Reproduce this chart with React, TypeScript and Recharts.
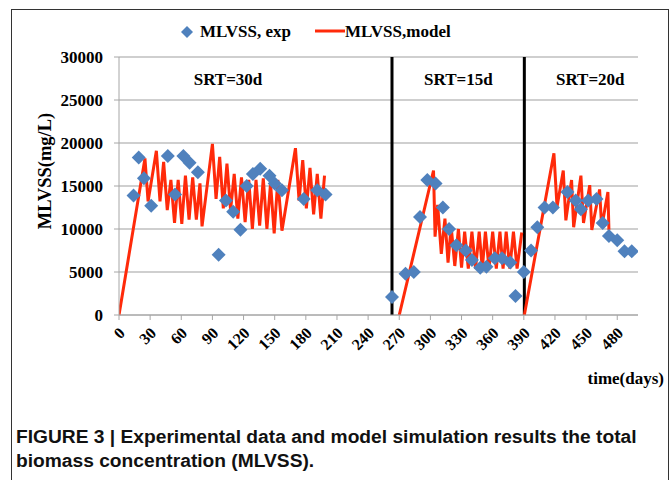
import React from "react";
import {
  ComposedChart, Line, Scatter, XAxis, YAxis, CartesianGrid, ReferenceLine, ReferenceDot,
} from "recharts";

// experimental MLVSS (mg/L)
const expDays = [14, 19, 24, 31, 47, 54, 62, 68, 76, 96, 103, 110, 117, 123, 129, 136, 145, 150, 157, 178, 191, 199, 263, 276, 284, 290, 297, 305, 312, 318, 325, 334, 340, 348, 354, 362, 369, 377, 382, 390, 397, 403, 410, 418, 432, 440, 445, 452, 460, 466, 472, 480, 487, 494];
const expValues = [13900, 18300, 15900, 12700, 18500, 14000, 18500, 17700, 16600, 7000, 13300, 12000, 9900, 15000, 16400, 17000, 16200, 15300, 14500, 13500, 14500, 14000, 2100, 4800, 5000, 11400, 15700, 15300, 12500, 10000, 8100, 7500, 6400, 5500, 5600, 6600, 6600, 6100, 2200, 5000, 7500, 10200, 12500, 12500, 14300, 13300, 12300, 13300, 13500, 10700, 9200, 8700, 7400, 7400];

// model, one run per SRT period
const srt30Days = [0, 25, 28, 36, 39.5, 43, 46.5, 50, 53.5, 57, 60.5, 64, 67.5, 71, 74.5, 78, 80, 90, 93.5, 97, 100.5, 104, 107.5, 111, 114.5, 118, 121.5, 125, 128.5, 132, 135.5, 139, 142.5, 146, 149.5, 153, 157, 170, 173.5, 177, 180.5, 184, 187.5, 191, 194.5, 198];
const srt30Model = [0, 18200, 13200, 19100, 13200, 17800, 12200, 15700, 10700, 15700, 10600, 16200, 11100, 16000, 11100, 15300, 10300, 19900, 13500, 18400, 12400, 17600, 12200, 16400, 11200, 16000, 10800, 15700, 10000, 15700, 10400, 15900, 10000, 15300, 9500, 15700, 9800, 19400, 13300, 18000, 12400, 17100, 11700, 16400, 11200, 16200];
const srt15Days = [270, 303, 304.5, 307, 310.5, 314, 317, 320, 323.5, 327, 330, 333, 336.5, 340, 343.5, 347, 350, 353, 356.5, 360, 363.5, 367, 370, 373, 376.5, 380, 383.5, 388];
const srt15Model = [0, 16800, 9100, 12800, 7100, 11200, 6100, 10300, 5700, 10000, 5500, 9700, 5400, 9700, 5400, 9700, 5400, 9700, 5400, 9700, 5400, 9700, 5400, 9700, 5400, 9700, 5400, 9600];
const srt20Days = [390.5, 419, 422, 428, 430.5, 436, 438, 445, 447.5, 453.5, 455.5, 463, 465, 471, 472];
const srt20Model = [0, 18800, 12600, 16800, 11000, 15700, 10200, 16200, 10700, 15100, 9900, 14600, 10200, 14300, 9900];

const srtChanges = [263, 390.5];
const srtLabels = ["SRT=30d", "SRT=15d", "SRT=20d"];
const srtLabelDays = [105, 327, 454];

const xTicks = [0, 30, 60, 90, 120, 150, 180, 210, 240, 270, 300, 330, 360, 390, 420, 450, 480];
const yTicks = [0, 5000, 10000, 15000, 20000, 25000, 30000];

const zip = (days: number[], vals: number[]) => days.map((d, i) => ({ day: d, v: vals[i] }));
const expData = zip(expDays, expValues);
const runs = [zip(srt30Days, srt30Model), zip(srt15Days, srt15Model), zip(srt20Days, srt20Model)];

const SERIF = "'Liberation Serif', 'Times New Roman', serif";
const RED = "#ff2a0a";
const BLUE = "#4f81bd";

const Diamond = (props: any) => {
  const { cx, cy } = props;
  const s = 7;
  return <polygon points={`${cx},${cy - s} ${cx + s},${cy} ${cx},${cy + s} ${cx - s},${cy}`} fill={BLUE} />;
};

const XTick = ({ x, y, payload }: any) => (
  <text transform={`translate(${x + 7},${y + 12}) rotate(-45)`} textAnchor="end"
    style={{ fontFamily: SERIF, fontWeight: "bold", fontSize: 16, fill: "#000" }}>
    {payload.value}
  </text>
);

export default function App() {
  return (
    <div style={{ position: "absolute", left: 0, top: 0, width: 672, height: 480, background: "#fff", overflow: "hidden" }}>
      <div style={{ position: "absolute", left: 11, top: 9, width: 656, height: 480, borderLeft: "1.5px solid #333", borderTop: "1.5px solid #333", borderRight: "1.5px solid #333" }} />

      {/* legend */}
      <div style={{ position: "absolute", top: 22, left: 178, display: "flex", alignItems: "center", fontFamily: SERIF, fontWeight: "bold", fontSize: 17 }}>
        <svg width={18} height={18}><polygon points="9,3 15,9 9,15 3,9" fill={BLUE} /></svg>
        <span style={{ marginLeft: 4 }}>MLVSS, exp</span>
        <svg width={30} height={18} style={{ marginLeft: 24 }}><line x1={0} y1={8} x2={30} y2={8} stroke={RED} strokeWidth={3} /></svg>
        <span>MLVSS,model</span>
      </div>

      <ComposedChart width={672} height={480} margin={{ top: 57, right: 34, bottom: 115, left: 0 }}>
        <CartesianGrid horizontal vertical={false} stroke="#bfbfbf" strokeWidth={1.3} />
        <XAxis type="number" dataKey="day" domain={[0, 500]} ticks={xTicks} interval={0} height={50}
          stroke="#a6a6a6" tickSize={5} tickLine={{ stroke: "#a6a6a6" }} tick={<XTick />} allowDataOverflow
          label={(p: any) => {
            const vb = p.viewBox;
            return (
              <text x={vb.x + vb.width + 26} y={vb.y + 69} textAnchor="end"
                style={{ fontFamily: SERIF, fontWeight: "bold", fontSize: 17, fill: "#000" }}>time(days)</text>
            );
          }} />
        <YAxis type="number" domain={[0, 30000]} ticks={yTicks} interval={0} width={119}
          stroke="#a6a6a6" tickSize={5} tickMargin={11}
          tick={{ fontFamily: SERIF, fontWeight: "bold", fontSize: 17, fill: "#000" }}
          label={() => (
            <text transform="translate(51,171) rotate(-90)" textAnchor="middle"
              style={{ fontFamily: SERIF, fontWeight: "bold", fontSize: 18.5, fill: "#000" }}>MLVSS(mg/L)</text>
          )} />
        {srtChanges.map((d) => (
          <ReferenceLine key={d} x={d} stroke="#000" strokeWidth={3} />
        ))}
        {srtLabels.map((t, i) => (
          <ReferenceDot key={t} x={srtLabelDays[i]} y={27500} r={0} fill="none" stroke="none"
            label={{ value: t, position: "center", style: { fontFamily: SERIF, fontWeight: "bold", fontSize: 17, fill: "#000" } }} />
        ))}
        {runs.map((data, i) => (
          <Line key={i} data={data} dataKey="v" type="linear" stroke={RED} strokeWidth={3}
            dot={false} activeDot={false} isAnimationActive={false} />
        ))}
        <Scatter data={expData} dataKey="v" shape={<Diamond />} isAnimationActive={false} />
      </ComposedChart>

      <div style={{ position: "absolute", left: 16, top: 425, fontFamily: "'Liberation Sans', Arial, sans-serif", fontWeight: "bold", fontSize: 19.2, lineHeight: "24px", color: "#111" }}>
        FIGURE 3 | Experimental data and model simulation results the total<br />
        biomass concentration (MLVSS).
      </div>
    </div>
  );
}
